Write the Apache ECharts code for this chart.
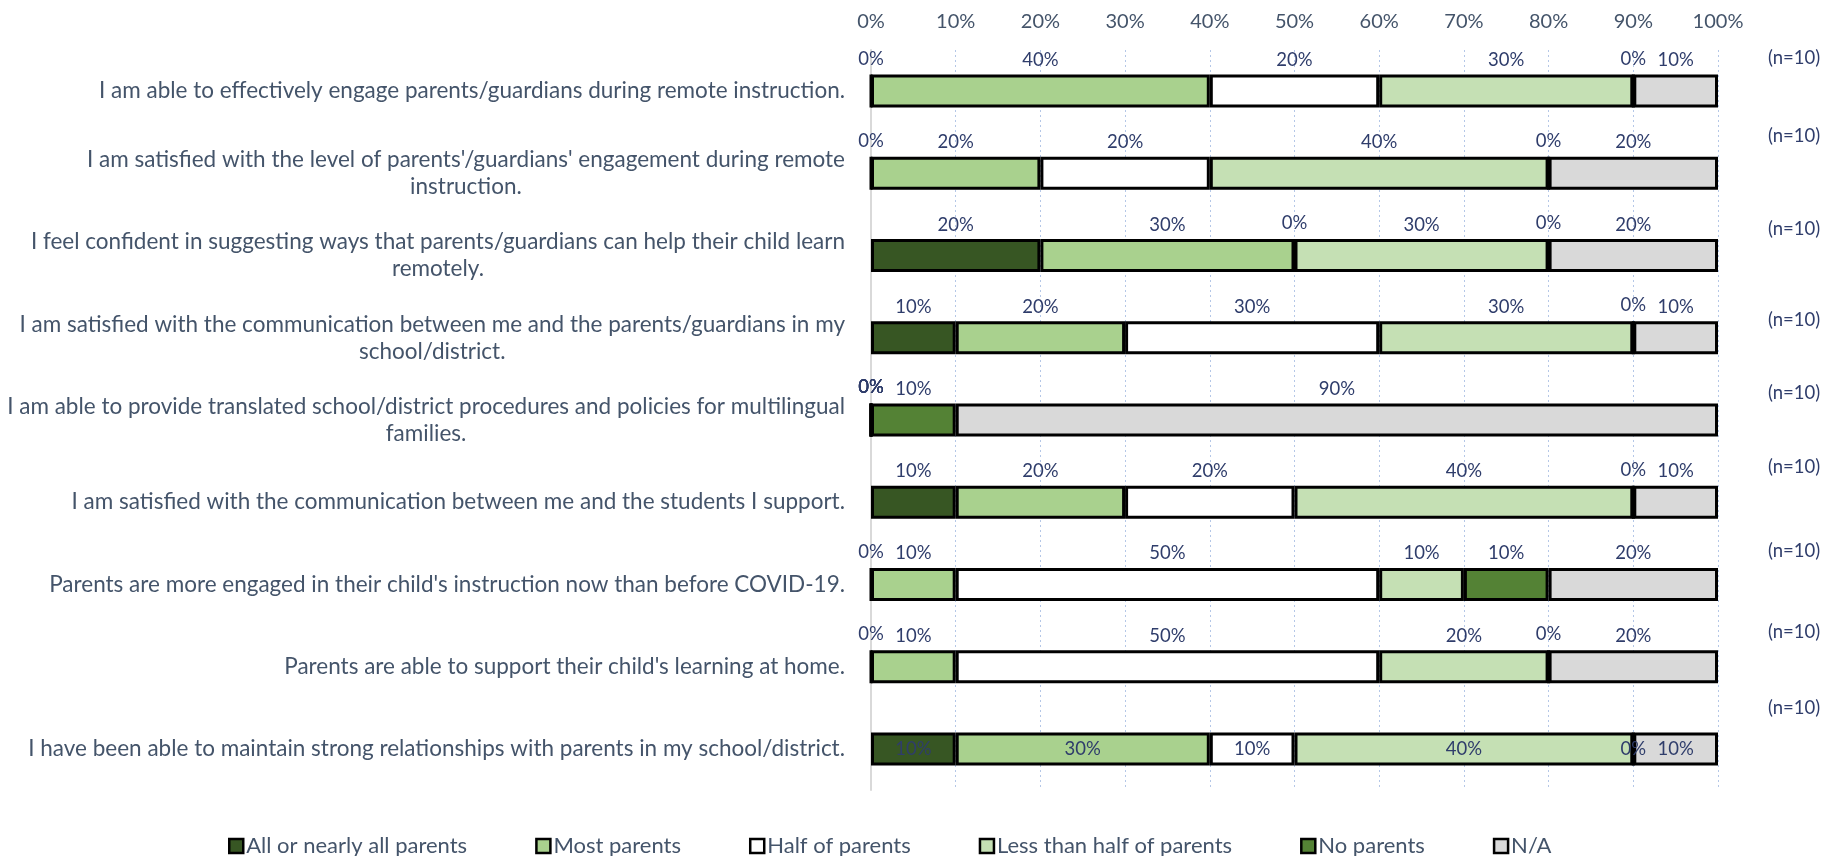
<!DOCTYPE html>
<html>
<head>
<meta charset="utf-8">
<script src="https://cdn.jsdelivr.net/npm/echarts@6/dist/echarts.min.js"></script>
<style>
  html, body { margin: 0; padding: 0; background: #fff; }
  #chart { width: 1845px; height: 856px; }
</style>
</head>
<body>
<div id="chart"></div>
<script>
var categories = [
  "I am able to effectively engage parents/guardians during remote instruction.",
  "I am satisfied with the level of parents'/guardians' engagement during remote\ninstruction.",
  "I feel confident in suggesting ways that parents/guardians can help their child learn\nremotely.",
  "I am satisfied with the communication between me and the parents/guardians in my\nschool/district.",
  "I am able to provide translated school/district procedures and policies for multilingual\nfamilies.",
  "I am satisfied with the communication between me and the students I support.",
  "Parents are more engaged in their child's instruction now than before COVID-19.",
  "Parents are able to support their child's learning at home.",
  "I have been able to maintain strong relationships with parents in my school/district."
]
var nLabels = ['(n=10)','(n=10)','(n=10)','(n=10)','(n=10)','(n=10)','(n=10)','(n=10)','(n=10)']

var seriesNames = ['All or nearly all parents','Most parents','Half of parents','Less than half of parents','No parents','N/A']
var allParents  = [0, 0, 20, 10, 0, 10, 0, 0, 10]
var mostParents = [40, 20, 30, 20, 0, 20, 10, 10, 30]
var halfParents = [20, 20, 0, 30, 0, 20, 50, 50, 10]
var lessParents = [30, 40, 30, 30, 0, 40, 10, 20, 40]
var noParents   = [0, 0, 0, 0, 10, 0, 10, 0, 0]
var naValues    = [10, 20, 20, 10, 90, 10, 20, 20, 10]
var xTicks = [0, 10, 20, 30, 40, 50, 60, 70, 80, 90, 100]

var colors = ['#375623', '#A9D18E', '#FFFFFF', '#C5E0B4', '#548235', '#D9D9D9']
var values = [allParents, mostParents, halfParents, lessParents, noParents, naValues]

// how far the (n=10) text sits above each bar
var nShift = [33, 37, 27, 18, 27, 35, 33, 35, 41]
var nRich = {}
nShift.forEach(function(s, i){
  nRich['r' + i] = { padding: [0, 0, s * 2, 0], fontSize: 18.5, color: '#2F3D6B', fontFamily: 'Lato' }
})

var myChart = echarts.init(document.getElementById('chart'))

var series = values.map(function(arr, k){
  return {
    name: seriesNames[k],
    type: 'bar',
    stack: 'total',
    barWidth: 33,
    itemStyle: { color: colors[k], borderColor: '#000', borderWidth: 3 },
    label: {
      show: true,
      position: 'top',
      distance: 5,
      formatter: '{c}%',
      fontSize: 18.5,
      fontFamily: 'Lato',
      color: '#2F3D6B'
    },
    data: arr.map(function(v, i){
      // last row has its labels inside the bar
      if (i === arr.length - 1) {
        return { value: v, label: { position: 'inside' } }
      }
      return v
    })
  }
})

var option = {
  animation: false,
  textStyle: { fontFamily: 'Lato' },
  grid: { left: 871, right: 127, top: 50, bottom: 66, containLabel: false },
  legend: {
    data: seriesNames,
    left: 223,
    top: 830,
    itemWidth: 14,
    itemHeight: 14,
    itemGap: 68,
    icon: 'rect',
    itemStyle: { borderColor: '#000', borderWidth: 2.5 },
    textStyle: { fontSize: 22, color: '#44546A', fontFamily: 'Lato', padding: [0, 0, 0, -2] }
  },
  xAxis: {
    type: 'value',
    position: 'top',
    min: xTicks[0],
    max: xTicks[xTicks.length - 1],
    interval: 10,
    axisLabel: { formatter: '{value}%', fontSize: 20, color: '#44546A', margin: 18 },
    axisLine: { show: false },
    axisTick: { show: false },
    splitLine: { show: true, lineStyle: { type: [2, 3], color: '#B4C7E7', width: 1 } }
  },
  yAxis: [{
    type: 'category',
    inverse: true,
    data: categories,
    axisTick: { show: false },
    axisLine: { show: true, lineStyle: { color: '#D9D9D9', width: 2 } },
    axisLabel: {
      margin: 26,
      align: 'right',
      formatter: function(val){
        return val.split('\n').map(function(l){ return '{c|' + l + '}' }).join('\n')
      },
      rich: {
        c: { align: 'center', fontSize: 22.5, lineHeight: 27, color: '#44546A', fontFamily: 'Lato' }
      }
    }
  }, {
    type: 'category',
    inverse: true,
    position: 'right',
    data: nLabels,
    axisTick: { show: false },
    axisLine: { show: false },
    axisLabel: {
      margin: 50,
      align: 'left',
      formatter: function(val, i){ return '{r' + i + '|' + val + '}' },
      rich: nRich
    }
  }],
  series: series
}
myChart.setOption(option)
window.addEventListener('resize', function(){ myChart.resize() })
</script>
</body>
</html>
